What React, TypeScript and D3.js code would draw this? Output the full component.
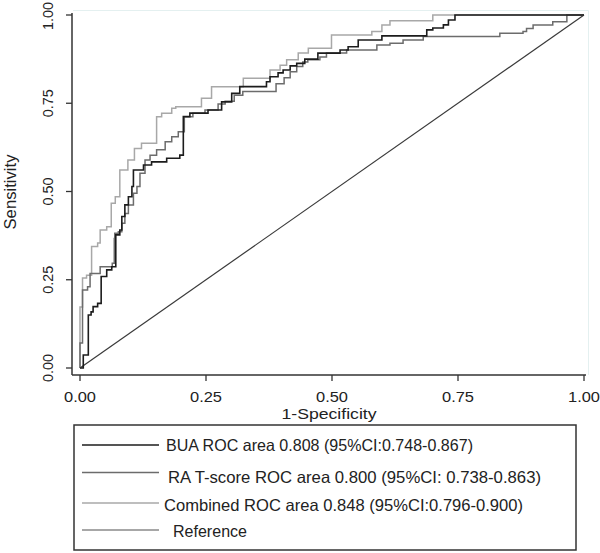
import React from "react";
import * as d3 from "d3";

type Pt = [number, number];

// ROC operating points (1-specificity, sensitivity)
const buaPoints: Pt[] = [
  [0, 0], [0.0065, 0.037], [0.0165, 0.15], [0.022, 0.159], [0.026, 0.174], [0.035, 0.183],
  [0.042, 0.259], [0.053, 0.278], [0.063, 0.287], [0.071, 0.377], [0.079, 0.391], [0.083, 0.429],
  [0.089, 0.462], [0.096, 0.485], [0.103, 0.514], [0.106, 0.561], [0.126, 0.575], [0.142, 0.584],
  [0.172, 0.594], [0.198, 0.603], [0.205, 0.712], [0.218, 0.722], [0.254, 0.731], [0.281, 0.754],
  [0.301, 0.778], [0.317, 0.797], [0.37, 0.811], [0.377, 0.825], [0.393, 0.836], [0.403, 0.844],
  [0.417, 0.856], [0.43, 0.863], [0.446, 0.875], [0.472, 0.892], [0.516, 0.901], [0.532, 0.91],
  [0.552, 0.929], [0.599, 0.941], [0.688, 0.958], [0.7, 0.963], [0.721, 0.972], [0.731, 0.986],
  [0.744, 1.0], [1.0, 1.0],
];

const raPoints: Pt[] = [
  [0, 0], [0, 0.071], [0.005, 0.221], [0.015, 0.23], [0.02, 0.268], [0.04, 0.287], [0.064, 0.297],
  [0.068, 0.367], [0.069, 0.382], [0.076, 0.386], [0.083, 0.41], [0.089, 0.438], [0.096, 0.462],
  [0.106, 0.495], [0.113, 0.514], [0.119, 0.552], [0.129, 0.589], [0.139, 0.603], [0.152, 0.618],
  [0.169, 0.641], [0.182, 0.655], [0.195, 0.669], [0.207, 0.712], [0.224, 0.722], [0.248, 0.731],
  [0.274, 0.748], [0.288, 0.756], [0.306, 0.773], [0.323, 0.783], [0.389, 0.805], [0.405, 0.822],
  [0.417, 0.839], [0.43, 0.854], [0.442, 0.867], [0.452, 0.873], [0.476, 0.881], [0.489, 0.892],
  [0.529, 0.901], [0.589, 0.915], [0.615, 0.92], [0.641, 0.929], [0.681, 0.939], [0.833, 0.948],
  [0.879, 0.953], [0.886, 0.962], [0.899, 0.972], [0.938, 0.981], [0.966, 1.0], [1.0, 1.0],
];

const combinedPoints: Pt[] = [
  [0, 0], [0, 0.173], [0.005, 0.255], [0.013, 0.263], [0.023, 0.344], [0.035, 0.354], [0.04, 0.391],
  [0.053, 0.4], [0.062, 0.467], [0.07, 0.485], [0.079, 0.561], [0.095, 0.589], [0.108, 0.622],
  [0.122, 0.637], [0.152, 0.712], [0.162, 0.722], [0.182, 0.736], [0.19, 0.74], [0.241, 0.764],
  [0.261, 0.797], [0.324, 0.821], [0.377, 0.844], [0.397, 0.858], [0.41, 0.873], [0.433, 0.892],
  [0.453, 0.906], [0.499, 0.943], [0.579, 0.953], [0.599, 0.972], [0.615, 0.984], [0.7, 1.0], [1.0, 1.0],
];

const referencePoints: Pt[] = [[0, 0], [1, 1]];

const tickValues = [0, 0.25, 0.5, 0.75, 1];
const tickLabels = ["0.00", "0.25", "0.50", "0.75", "1.00"];

const legendLabels = [
  "BUA ROC area 0.808 (95%CI:0.748-0.867)",
  "RA T-score ROC area 0.800 (95%CI: 0.738-0.863)",
  "Combined ROC area 0.848 (95%CI:0.796-0.900)",
  "Reference",
];
const legendColors = ["#1c1c1c", "#6c6c6c", "#a8a8a8", "#8a8a8a"];
const legendTextX = [166, 168, 164, 173];
const legendTextLen = [307, 373, 359, 74];
const legendBaseline = [451, 483, 511, 537];
const legendLineY = [445, 472.5, 503, 530];

const FONT = "'Liberation Sans', Arial, Helvetica, sans-serif";

export default function App() {
  const W = 600;
  const H = 553;
  const x = d3.scaleLinear().domain([0, 1]).range([80, 584]);
  const y = d3.scaleLinear().domain([0, 1]).range([368, 15]);
  const step = d3
    .line<Pt>()
    .x((d) => x(d[0]))
    .y((d) => y(d[1]))
    .curve(d3.curveStepAfter);
  const straight = d3
    .line<Pt>()
    .x((d) => x(d[0]))
    .y((d) => y(d[1]));

  const axisColor = "#333";

  return (
    <svg
      width={W}
      height={H}
      viewBox={`0 0 ${W} ${H}`}
      style={{ position: "absolute", left: 0, top: 0, background: "#fff" }}
      fontFamily={FONT}
    >
      <rect x={0} y={0} width={W} height={H} fill="#fff" />
      {/* faint plot region border */}
      <path d="M73,10.5 H588.5 V375" fill="none" stroke="#e4f0f0" strokeWidth={1} />

      {/* curves */}
      <path d={straight(referencePoints) || ""} fill="none" stroke="#3a3a3a" strokeWidth={1.2} />
      <path d={step(combinedPoints) || ""} fill="none" stroke={legendColors[2]} strokeWidth={1.5} />
      <path d={step(raPoints) || ""} fill="none" stroke={legendColors[1]} strokeWidth={1.5} />
      <path d={step(buaPoints) || ""} fill="none" stroke={legendColors[0]} strokeWidth={1.6} />

      {/* axes */}
      <line x1={72} x2={72} y1={13} y2={375} stroke={axisColor} strokeWidth={1.5} />
      <line x1={72} x2={586} y1={375} y2={375} stroke={axisColor} strokeWidth={1.5} />
      {tickValues.map((v, i) => (
        <g key={"y" + i}>
          <line x1={66} x2={72} y1={y(v)} y2={y(v)} stroke={axisColor} strokeWidth={1.3} />
          <text
            transform={`translate(53,${y(v) + (i === tickValues.length - 1 ? 1 : 0)}) rotate(-90)`}
            textAnchor="middle"
            fontSize={15}
            fill="#222"
            textLength={28}
            lengthAdjust="spacingAndGlyphs"
          >
            {tickLabels[i]}
          </text>
        </g>
      ))}
      {tickValues.map((v, i) => (
        <g key={"x" + i}>
          <line x1={x(v)} x2={x(v)} y1={375} y2={381} stroke={axisColor} strokeWidth={1.3} />
          <text
            x={x(v)}
            y={402}
            textAnchor="middle"
            fontSize={14}
            fill="#222"
            textLength={32}
            lengthAdjust="spacingAndGlyphs"
          >
            {tickLabels[i]}
          </text>
        </g>
      ))}
      <text x={329} y={419} textAnchor="middle" fontSize={15} fill="#222" textLength={95} lengthAdjust="spacingAndGlyphs">
        1-Specificity
      </text>
      <text transform="translate(16,192) rotate(-90)" textAnchor="middle" fontSize={16} fill="#222" textLength={75} lengthAdjust="spacingAndGlyphs">
        Sensitivity
      </text>

      {/* legend */}
      <rect x={74} y={425} width={502} height={125} fill="none" stroke="#333" strokeWidth={1.5} />
      {legendLabels.map((lab, i) => (
        <g key={"l" + i}>
          <line x1={82} x2={159} y1={legendLineY[i]} y2={legendLineY[i]} stroke={legendColors[i]} strokeWidth={1.5} />
          <text
            x={legendTextX[i]}
            y={legendBaseline[i]}
            fontSize={16.5}
            fill="#222"
            textLength={legendTextLen[i]}
            lengthAdjust="spacingAndGlyphs"
          >
            {lab}
          </text>
        </g>
      ))}
    </svg>
  );
}
